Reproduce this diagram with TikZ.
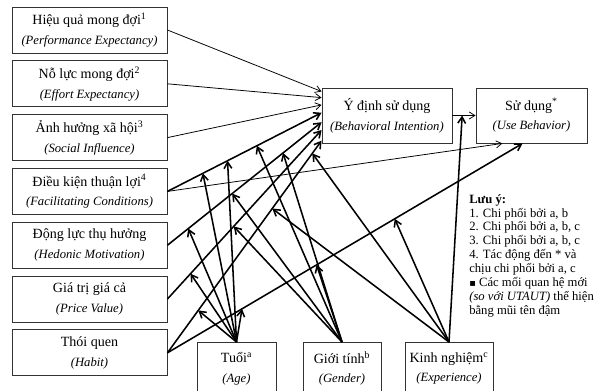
\documentclass[tikz,border=0pt]{standalone}
\usepackage{fontspec}
\setmainfont{Liberation Serif}
\newfontfamily\bulletfont{DejaVu Sans}
\usetikzlibrary{arrows.meta,calc}

% english name under the vietnamese one
\newcommand{\engname}[1]{{\fontsize{9}{11}\selectfont\itshape(#1)}}

\begin{document}
\begin{tikzpicture}[
	x=0.025cm, y=-0.025cm,
	font=\fontsize{10}{12}\selectfont,
	box/.style={draw=black!80, line width=0.6pt, align=center, inner sep=1pt},
	cbox/.style={box, minimum width=3.875cm, minimum height=1.15cm},
	mbox/.style={box, anchor=north, minimum height=1.3cm},
	oldpath/.style={line width=0.55pt, -{Straight Barb[length=4pt,width=5pt]}},
	newpath/.style={line width=1.1pt, -{Straight Barb[length=4.5pt,width=5.5pt]}},
]

\clip (0,0) rectangle (597,390);

% CONSTRUCTS
\foreach \vi/\en [count=\n] in {
	{Hiệu quả mong đợi\textsuperscript{1}}/{Performance Expectancy},
	{Nỗ lực mong đợi\textsuperscript{2}}/{Effort Expectancy},
	{Ảnh hưởng xã hội\textsuperscript{3}}/{Social Influence},
	{Điều kiện thuận lợi\textsuperscript{4}}/{Facilitating Conditions},
	{Động lực thụ hưởng}/{Hedonic Motivation},
	{Giá trị giá cả}/{Price Value},
	{Thói quen}/{Habit}%
} {
	\node[cbox] (c\n) at (89.5,{30+53.8*(\n-1)}) {\vi\\[2pt]\engname{\en}};
}

\node[box, minimum width=3.25cm, minimum height=1.375cm] (bi) at (387,115.5)
	{Ý định sử dụng\\[2pt]\engname{Behavioral Intention}};
\node[box, minimum width=2.775cm, minimum height=1.375cm] (ub) at (531.5,115.5)
	{Sử dụng\textsuperscript{*}\\[2pt]\engname{Use Behavior}};

% MODERATORS
\node[mbox, minimum width=1.975cm] (age) at (236.5,342)
	{Tuổi\textsuperscript{a}\\[2pt]\engname{Age}};
\node[mbox, minimum width=1.95cm] (gender) at (342,342)
	{Giới tính\textsuperscript{b}\\[2pt]\engname{Gender}};
\node[mbox, minimum width=2.2cm] (exp) at (449,342)
	{Kinh nghiệm\textsuperscript{c}\\[2pt]\engname{Experience}};

% NOTE
\node[anchor=north west, align=left, inner sep=0pt, font=\fontsize{9}{9.9}\selectfont] (note) at (469,194) {%
	\textbf{Lưu ý:}\\
	1. Chi phối bởi a, b\\
	2. Chi phối bởi a, b, c\\
	3. Chi phối bởi a, b, c\\
	4. Tác động đến * và\\
	chịu chi phối bởi a, c\\
	{\bulletfont\scriptsize▪} Các mối quan hệ mới\\
	\textit{(so với UTAUT)} thể hiện\\
	bằng mũi tên đậm};

% ARROW ENDS ON BI AND UB
\foreach \n/\f in {1/0.07, 2/0.18, 3/0.31, 4/0.45, 5/0.62, 6/0.76, 7/0.95}
	\coordinate (in\n) at ($(bi.north west)!\f!(bi.south west)$);
\coordinate (ub4) at ($(ub.south west)!0.24!(ub.south east)$);
\coordinate (ub7) at ($(ub.south west)!0.42!(ub.south east)$);

% UTAUT PATHS
\foreach \n in {1,2,3}
	\draw[oldpath] (c\n.east) -- (in\n);
\draw[oldpath] (c4.east) -- (ub4);
\draw[oldpath] (bi.east) -- (ub.west);

% NEW PATHS
\foreach \n in {4,...,7}
	\draw[newpath] (c\n.east) -- (in\n);
\draw[newpath] (c7.east) -- (ub7);

% MODERATION
\foreach \c/\t in {4/0.23, 4/0.39, 5/0.135, 6/0.15, 7/0.2}
	\draw[newpath] (age.north) -- ($(c\c.east)!\t!(in\c)$);
\draw[newpath] (age.north) -- ($(c7.east)!0.21!(ub7)$);

\foreach \c/\t in {4/0.58, 5/0.42, 5/0.75, 6/0.43}
	\draw[newpath] (gender.north) -- ($(c\c.east)!\t!(in\c)$);
\draw[newpath] (gender.north) -- ($(c7.east)!0.42!(ub7)$);

\foreach \c/\t in {7/0.68, 7/0.94}
	\draw[newpath] (exp.north) -- ($(c\c.east)!\t!(in\c)$);
\draw[newpath] (exp.north) -- ($(c7.east)!0.64!(ub7)$);
\draw[newpath] (exp.north) -- ($(bi.east)!0.42!(ub.west)$);

\end{tikzpicture}
\end{document}
